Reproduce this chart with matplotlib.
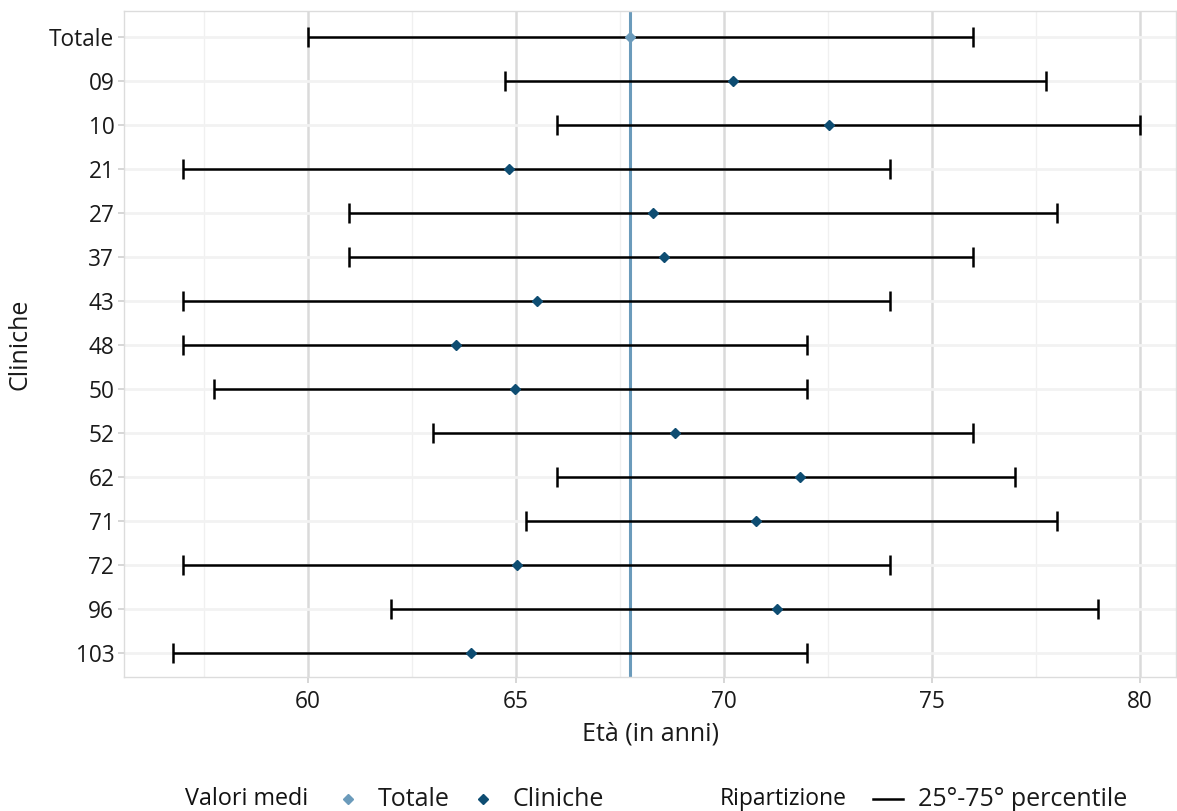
import matplotlib
matplotlib.use("Agg")
import matplotlib.pyplot as plt
from matplotlib.lines import Line2D
import numpy as np

plt.rcParams['font.family'] = ['Open Sans', 'DejaVu Sans']

categories = ["Totale", "09", "10", "21", "27", "37", "43", "48", "50", "52", "62", "71", "72", "96", "103"]
p25 = [60, 64.75, 66, 57, 61, 61, 57, 57, 57.75, 63, 66, 65.25, 57, 62, 56.75]
p75 = [76, 77.75, 80, 74, 78, 76, 74, 72, 72, 76, 77, 78, 74, 79, 72]
means = [67.74, 70.22, 72.52, 64.83, 68.29, 68.56, 65.5, 63.56, 64.98, 68.82, 71.83, 70.77, 65.02, 71.27, 63.92]
xticks = [60, 65, 70, 75, 80]

col_tot = "#6b9bbb"
col_cli = "#0e4d72"
txt = "#1a1a1a"
fs_tick = 16.3
fs = 18

fig = plt.figure(figsize=(11.77, 8.11), dpi=100)
ax = fig.add_axes([124/1177, 1-677/811, (1176-124)/1177, (677-11)/811])

n = len(categories)
ypos = np.arange(n)[::-1]

ax.set_xlim(55.58, 80.87)
ax.set_ylim(-0.55, n-1+0.6)

# grid
for v in np.arange(57.5, 81, 5):
    ax.axvline(v, color="#f0f0f0", lw=1, zorder=0)
for v in xticks:
    ax.axvline(v, color="#dadada", lw=1.8, zorder=0)
for y in ypos:
    ax.axhline(y, color="#f2f2f2", lw=2, zorder=0)

# mean total line
ax.axvline(means[0], color=col_tot, lw=2.2, zorder=1)

# errorbars
for y, lo, hi in zip(ypos, p25, p75):
    ax.errorbar([(lo+hi)/2], [y], xerr=[[(hi-lo)/2], [(hi-lo)/2]], fmt='none',
                ecolor='black', elinewidth=1.8, capsize=7.5, capthick=1.8, zorder=2)

# means
ax.plot([means[0]], [ypos[0]], linestyle='none', marker='D', markersize=5.5, color=col_tot, zorder=3)
ax.plot(means[1:], ypos[1:], linestyle='none', marker='D', markersize=5.5, color=col_cli, zorder=3)

ax.set_yticks(ypos)
ax.set_yticklabels(categories)
ax.set_xticks(xticks)
ax.set_xticklabels([str(v) for v in xticks])
ax.tick_params(axis='both', colors="#d0d0d0", labelcolor=txt, labelsize=fs_tick, length=4, width=1.2)
ax.tick_params(axis='y', pad=3)
ax.tick_params(axis='x', pad=5)

for s in ax.spines.values():
    s.set_color("#dcdcdc")
    s.set_linewidth(1)

ax.set_xlabel("Età (in anni)", fontsize=fs, color=txt, labelpad=6)
ax.set_ylabel("Cliniche", fontsize=fs, color=txt, labelpad=12)

# legend (manual)
ly = 1 - 799/811
fig.text(185/1177, ly, "Valori medi", fontsize=16.8, fontweight='medium', va='center', ha='left', color="#111111")
fig.lines.append(Line2D([348/1177], [ly], marker='D', markersize=5.5, color=col_tot, linestyle='none', transform=fig.transFigure))
fig.text(378/1177, ly, "Totale", fontsize=fs, va='center', ha='left', color=txt)
fig.lines.append(Line2D([483/1177], [ly], marker='D', markersize=5.5, color=col_cli, linestyle='none', transform=fig.transFigure))
fig.text(513/1177, ly, "Cliniche", fontsize=fs, va='center', ha='left', color=txt)
fig.text(720/1177, ly, "Ripartizione", fontsize=16.5, fontweight='medium', va='center', ha='left', color="#111111")
fig.lines.append(Line2D([873/1177, 903/1177], [ly, ly], color='black', lw=1.8, transform=fig.transFigure))
fig.text(918/1177, ly, "25°-75° percentile", fontsize=fs, va='center', ha='left', color=txt)

fig.savefig("out.png", dpi=100, facecolor='white')
